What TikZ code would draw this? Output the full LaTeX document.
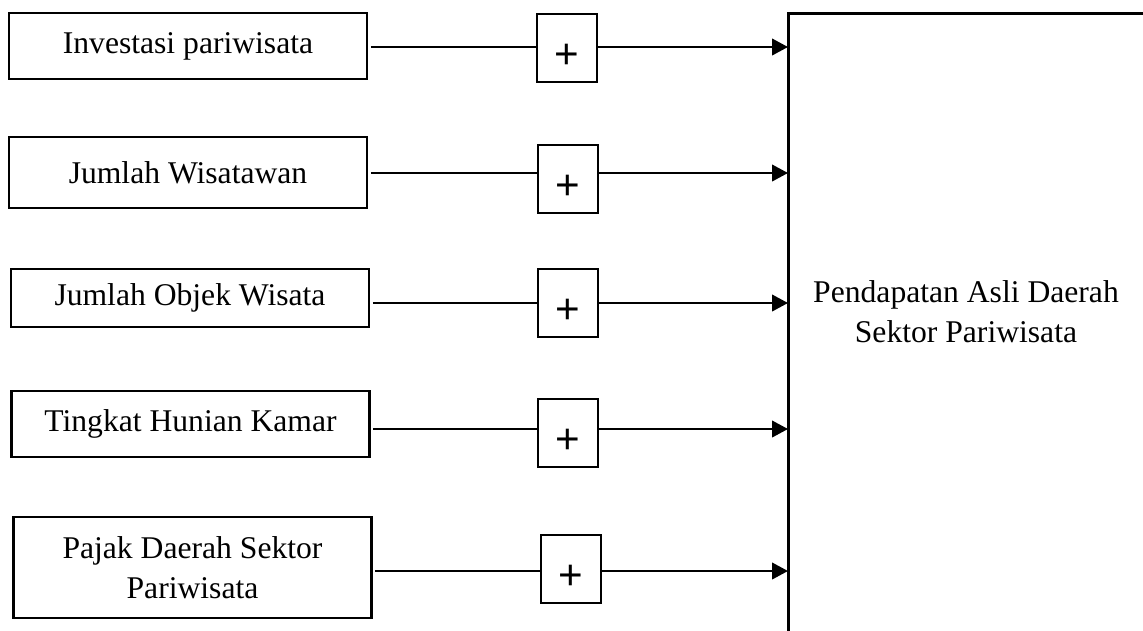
\documentclass[tikz,border=0pt]{standalone}
\usepackage{fontspec}
\setmainfont{Liberation Serif}
\newfontfamily\plusfont{Liberation Sans}
\usetikzlibrary{arrows.meta}

\begin{document}
\begin{tikzpicture}[x=0.02cm, y=-0.02cm,
    >={Triangle[length=3.2mm, width=3.3mm]},
    inbox/.style={draw, line width=1.5pt, minimum width=7.16cm, inner sep=0pt, align=center, font=\fontsize{18}{22.7}\selectfont},
    plusbox/.style={draw, line width=0.8pt, minimum width=1.2cm, minimum height=1.36cm, inner sep=0pt, text height=0.8cm, text depth=0pt, font=\plusfont\fontsize{24}{26}\selectfont},
    link/.style={line width=1.4pt}]
    \useasboundingbox (0,0) rectangle (1143,630);

    % Input variables
    \node[inbox, minimum height=1.32cm] (in1) at (188,46) {Investasi pariwisata};
    \node[inbox, minimum height=1.42cm] (in2) at (188,172.5) {Jumlah Wisatawan};
    \node[inbox, minimum height=1.16cm] (in3) at (190,298) {Jumlah Objek Wisata};
    \node[inbox, minimum height=1.32cm] (in4) at (190.5,424) {Tingkat Hunian Kamar};
    \node[inbox, minimum height=2.02cm] (in5) at (192.5,567.5) {Pajak Daerah Sektor\\Pariwisata};

    % Plus signs
    \node[plusbox] (p1) at (567,48) {+};
    \node[plusbox] (p2) at (568,179) {+};
    \node[plusbox] (p3) at (568,303) {+};
    \node[plusbox] (p4) at (568,433) {+};
    \node[plusbox] (p5) at (571,569) {+};

    % Output (box runs off the page)
    \draw[line width=1.7pt] (1160,13) -- (788,13) -- (788,650);
    \node[align=center, font=\fontsize{18}{22.7}\selectfont] (pad) at (966,312) {Pendapatan Asli Daerah\\Sektor Pariwisata};
    \coordinate (t1) at (788,47);
    \coordinate (t2) at (788,173);
    \coordinate (t3) at (788,303);
    \coordinate (t4) at (788,429);
    \coordinate (t5) at (788,571);

    % Links
    \foreach \i in {1,...,5} {
        \draw[link, shorten <=1.5pt] (in\i.east |- t\i) -- (p\i.west |- t\i);
        \draw[link, ->] (p\i.east |- t\i) -- (t\i);
    }
\end{tikzpicture}
\end{document}
